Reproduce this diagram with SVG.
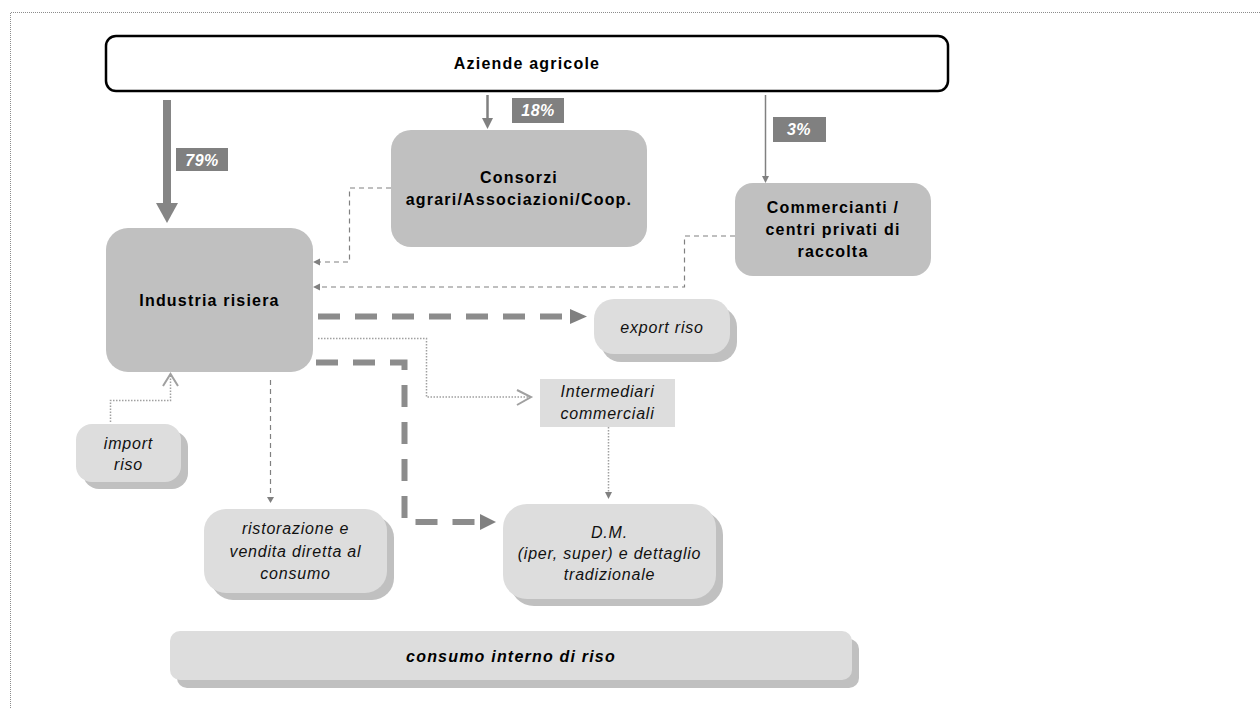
<svg xmlns="http://www.w3.org/2000/svg" width="1260" height="708" viewBox="0 0 1260 708">
  <style>
    .frame{fill:none;stroke:#8c8c8c;stroke-width:1;stroke-dasharray:1 1}
    .top{fill:#fff;stroke:#000;stroke-width:2.5}
    .dark{fill:#c0c0c0}
    .light{fill:#dddddd}
    .shadow{fill:#c0c0c0}
    .b{font-family:"Liberation Sans",Arial,sans-serif;font-weight:bold;font-size:16px;letter-spacing:1.2px;text-anchor:middle;fill:#000}
    .i{font-family:"Liberation Sans",Arial,sans-serif;font-style:italic;font-size:16px;letter-spacing:0.8px;text-anchor:middle;fill:#111}
    .bi{font-family:"Liberation Sans",Arial,sans-serif;font-weight:bold;font-style:italic;font-size:16px;letter-spacing:1.2px;text-anchor:middle;fill:#000}
    .pct{fill:#808080}
    .pt{font-family:"Liberation Sans",Arial,sans-serif;font-weight:bold;font-style:italic;font-size:16px;letter-spacing:0.5px;text-anchor:middle;fill:#fff}
    .thin{fill:none;stroke:#808080;stroke-width:1.2;stroke-dasharray:5 4}
    .thick{fill:none;stroke:#8c8c8c;stroke-width:6;stroke-dasharray:22 15}
    .dot{fill:none;stroke:#a0a0a0;stroke-width:1.5;stroke-dasharray:1.5 1.5}
    .head{fill:#808080}
    .chev{fill:none;stroke:#a0a0a0;stroke-width:2}
  </style>

  <!-- page frame -->
  <path class="frame" d="M10.5,708 V12.5 H1260"/>

  <!-- connectors -->
  <g id="connectors">
    <!-- share flows from the farms -->
    <rect x="163" y="100" width="8" height="104" fill="#858585"/>
    <polygon points="156,203 178,203 167,223" fill="#858585"/>
    <line x1="487.5" y1="95" x2="487.5" y2="119" stroke="#808080" stroke-width="2.5"/>
    <polygon class="head" points="482,118 493,118 487.5,129"/>
    <line x1="765.5" y1="95" x2="765.5" y2="177" stroke="#808080" stroke-width="1.5"/>
    <polygon class="head" points="762,176 769,176 765.5,183"/>

    <!-- collectors to the rice industry -->
    <path class="thin" d="M391,188 H349.5 V262 H319"/>
    <polygon class="head" points="313,262 320,258.5 320,265.5"/>
    <path class="thin" d="M735,236 H684.5 V287 H319"/>
    <polygon class="head" points="313,287 320,283.5 320,290.5"/>

    <!-- export -->
    <path class="thick" d="M318,316.5 H571"/>
    <polygon class="head" points="570,309 587,316.5 570,324"/>

    <!-- to large-scale retail -->
    <path class="thick" d="M316,362.5 H404.5 V522 H481"/>
    <polygon class="head" points="480,514 496,522 480,530"/>

    <!-- to trade intermediaries -->
    <path class="dot" d="M318,338.5 H426.5 V397 H530"/>
    <polyline class="chev" points="517,390 531,397 517,405"/>

    <!-- imports -->
    <path class="dot" d="M110.5,422 V400.5 H170.5 V375"/>
    <polyline class="chev" points="163,386 170.5,374 178,386"/>

    <!-- intermediaries to retail -->
    <path class="dot" d="M608.5,427 V492"/>
    <polygon class="head" points="605,492 612,492 608.5,499"/>

    <!-- catering and direct sales -->
    <path class="thin" d="M270.5,380 V497"/>
    <polygon class="head" points="267,497 274,497 270.5,503"/>
  </g>

  <!-- share labels -->
  <g id="label-79">
    <rect class="pct" x="176" y="148" width="52" height="23"/>
    <text class="pt" x="202" y="166">79%</text>
  </g>
  <g id="label-18">
    <rect class="pct" x="512" y="98" width="52" height="25"/>
    <text class="pt" x="538" y="116">18%</text>
  </g>
  <g id="label-3">
    <rect class="pct" x="773" y="117" width="53" height="25"/>
    <text class="pt" x="799" y="135">3%</text>
  </g>

  <!-- nodes -->
  <g id="aziende">
    <rect class="top" x="106" y="36" width="842" height="55" rx="10"/>
    <text class="b" x="527" y="69">Aziende agricole</text>
  </g>

  <g id="consorzi">
    <rect class="dark" x="391" y="130" width="256" height="117" rx="20"/>
    <text class="b" x="519" y="183">Consorzi</text>
    <text class="b" x="519" y="205">agrari/Associazioni/Coop.</text>
  </g>

  <g id="commercianti">
    <rect class="dark" x="735" y="183" width="196" height="93" rx="18"/>
    <text class="b" x="833" y="213">Commercianti /</text>
    <text class="b" x="833" y="235">centri privati di</text>
    <text class="b" x="833" y="257">raccolta</text>
  </g>

  <g id="industria">
    <rect class="dark" x="106" y="228" width="207" height="144" rx="22"/>
    <text class="b" x="209.5" y="306">Industria risiera</text>
  </g>

  <g id="export">
    <rect class="shadow" x="601" y="307" width="136" height="55" rx="20"/>
    <rect class="light" x="594" y="299" width="136" height="55" rx="20"/>
    <text class="i" x="662" y="333">export riso</text>
  </g>

  <g id="intermediari">
    <rect class="light" x="540" y="379" width="135" height="48"/>
    <text class="i" x="607.5" y="397">Intermediari</text>
    <text class="i" x="607.5" y="419">commerciali</text>
  </g>

  <g id="import">
    <rect class="shadow" x="83" y="431" width="105" height="58" rx="16"/>
    <rect class="light" x="76" y="424" width="105" height="58" rx="16"/>
    <text class="i" x="128.5" y="449">import</text>
    <text class="i" x="128.5" y="470">riso</text>
  </g>

  <g id="ristorazione">
    <rect class="shadow" x="211" y="516" width="183" height="84" rx="22"/>
    <rect class="light" x="204" y="509" width="183" height="84" rx="22"/>
    <text class="i" x="295.5" y="534">ristorazione e</text>
    <text class="i" x="295.5" y="557">vendita diretta al</text>
    <text class="i" x="295.5" y="579">consumo</text>
  </g>

  <g id="dm">
    <rect class="shadow" x="510" y="511" width="213" height="95" rx="24"/>
    <rect class="light" x="503" y="504" width="213" height="95" rx="24"/>
    <text class="i" x="609.5" y="538">D.M.</text>
    <text class="i" x="609.5" y="559">(iper, super) e dettaglio</text>
    <text class="i" x="609.5" y="580">tradizionale</text>
  </g>

  <g id="consumo">
    <rect class="shadow" x="177" y="639" width="682" height="49" rx="10"/>
    <rect class="light" x="170" y="631" width="682" height="49" rx="10"/>
    <text class="bi" x="511" y="662">consumo interno di riso</text>
  </g>
</svg>
